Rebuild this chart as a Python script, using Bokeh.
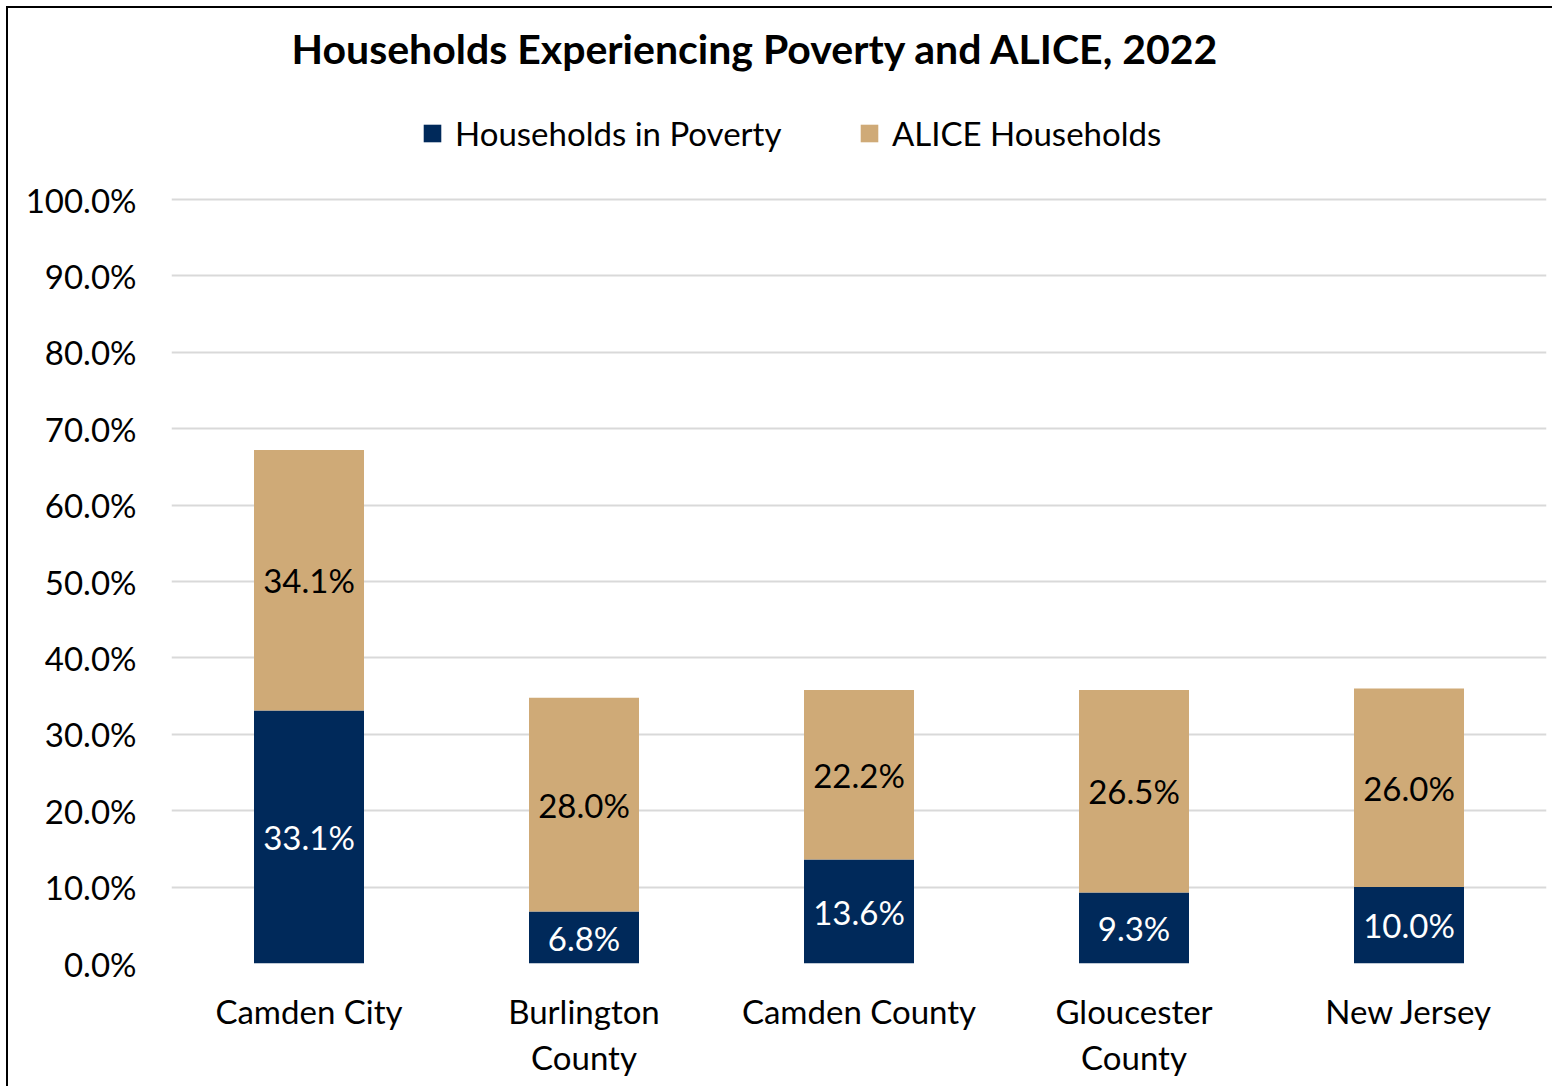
from bokeh.plotting import figure
from bokeh.models import (ColumnDataSource, FactorRange, Range1d, FixedTicker,
                          PrintfTickFormatter, Legend, LegendItem, Label)
from bokeh.core.properties import value
from bokeh.embed import file_html
from bokeh.resources import INLINE

title_text = "Households Experiencing Poverty and ALICE, 2022"
categories = ["Camden City", "Burlington\nCounty", "Camden County", "Gloucester\nCounty", "New Jersey"]
poverty = [33.1, 6.8, 13.6, 9.3, 10.0]
alice = [34.1, 28.0, 22.2, 26.5, 26.0]
y_ticks = [0, 10, 20, 30, 40, 50, 60, 70, 80, 90, 100]

NAVY = "#00295A"
TAN = "#CFAA77"
FONT = "Lato"
FS = "33px"

top = [p_ + a for p_, a in zip(poverty, alice)]
src = ColumnDataSource(dict(
    cat=categories, poverty=poverty, alice=alice, top=top,
    pov_mid=[v / 2 for v in poverty],
    alice_mid=[p_ + a / 2 for p_, a in zip(poverty, alice)],
    pov_lbl=[f"{v:.1f}%" for v in poverty],
    alice_lbl=[f"{v:.1f}%" for v in alice],
))

p = figure(width=1546, height=1080, x_range=FactorRange(*categories, range_padding=0),
           y_range=Range1d(0, 125.0), output_backend="svg", toolbar_location=None,
           title=None,
           min_border_left=163, min_border_right=8, min_border_top=0, min_border_bottom=125)
p.styles = {"border-left": "2px solid black", "border-top": "2px solid black",
            "margin-left": "6px", "margin-top": "6px"}
p.outline_line_color = None

r1 = p.vbar(x="cat", bottom=0, top="poverty", width=0.4, source=src, fill_color=NAVY, line_color=None)
r2 = p.vbar(x="cat", bottom="poverty", top="top", width=0.4, source=src, fill_color=TAN, line_color=None)

p.text(x="cat", y="pov_mid", text="pov_lbl", source=src, text_color="white",
       text_font=value(FONT), text_font_size=FS, text_align="center", text_baseline="middle")
p.text(x="cat", y="alice_mid", text="alice_lbl", source=src, text_color="black",
       text_font=value(FONT), text_font_size=FS, text_align="center", text_baseline="middle")

# title as a label positioned relative to the frame
p.add_layout(Label(x=120, y=915, x_units="screen", y_units="screen", text=title_text,
                   text_font=FONT, text_font_size="41px", text_font_style="bold",
                   text_color="black", text_align="left", text_baseline="middle"))

# axes
p.yaxis.ticker = FixedTicker(ticks=y_ticks)
p.yaxis.formatter = PrintfTickFormatter(format="%.1f%%")
for ax in (p.xaxis, p.yaxis):
    ax.axis_line_color = None
    ax.major_tick_line_color = None
    ax.minor_tick_line_color = None
    ax.major_label_text_font = FONT
    ax.major_label_text_font_size = FS
    ax.major_label_text_color = "black"
p.yaxis.major_label_standoff = 29
p.xaxis.major_label_standoff = 21
p.xaxis.major_label_text_line_height = 1.15

p.xgrid.grid_line_color = None
p.ygrid.grid_line_color = "#D9D9D9"
p.ygrid.grid_line_width = 2

legend = Legend(items=[LegendItem(label="Households in Poverty", renderers=[r1]),
                       LegendItem(label="ALICE Households", renderers=[r2])],
                orientation="horizontal", location=(250, 810), padding=0, margin=0,
                spacing=0, glyph_width=22, glyph_height=22, label_standoff=12,
                label_width=403, border_line_color=None, background_fill_alpha=0,
                label_text_font=FONT, label_text_font_size=FS, label_text_color="black")
p.add_layout(legend, "center")

open("out.html", "w").write(file_html(p, INLINE))
